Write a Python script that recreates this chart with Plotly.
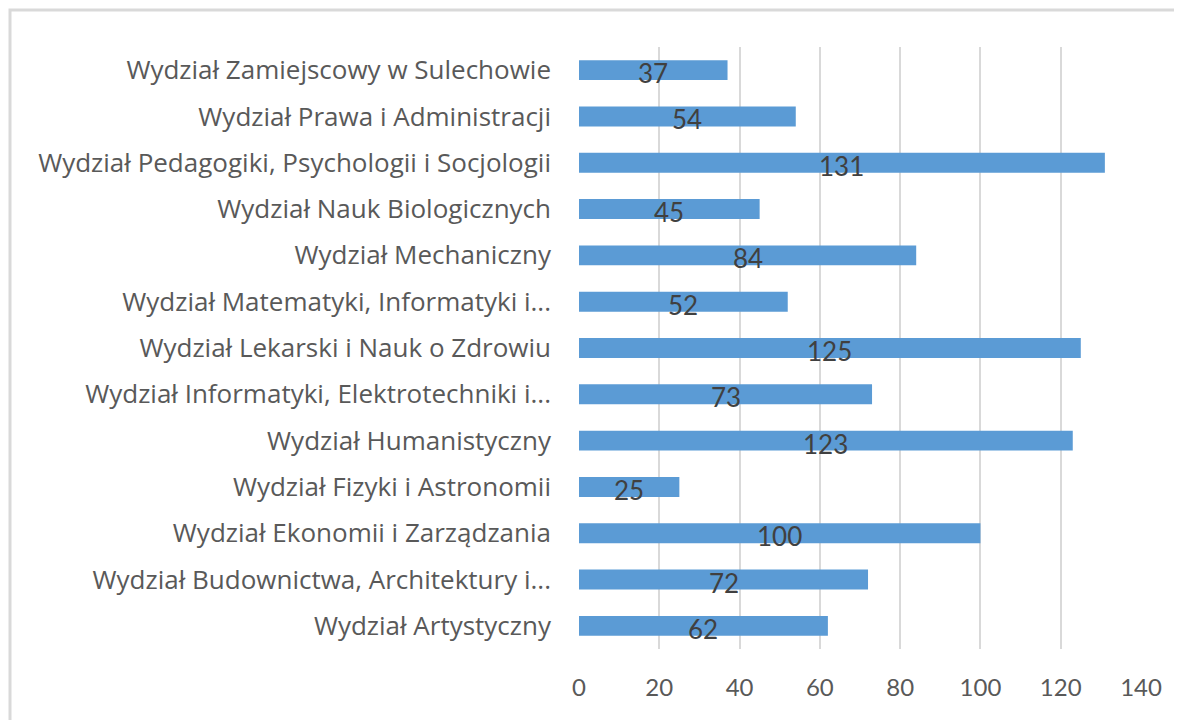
import plotly.graph_objects as go

categories = [
    "Wydział Artystyczny",
    "Wydział Budownictwa, Architektury i...",
    "Wydział Ekonomii i Zarządzania",
    "Wydział Fizyki i Astronomii",
    "Wydział Humanistyczny",
    "Wydział Informatyki, Elektrotechniki i...",
    "Wydział Lekarski i Nauk o Zdrowiu",
    "Wydział Matematyki, Informatyki i...",
    "Wydział Mechaniczny",
    "Wydział Nauk Biologicznych",
    "Wydział Pedagogiki, Psychologii i Socjologii",
    "Wydział Prawa i Administracji",
    "Wydział Zamiejscowy w Sulechowie",
]
values = [62, 72, 100, 25, 123, 73, 125, 52, 84, 45, 131, 54, 37]
x_ticks = [0, 20, 40, 60, 80, 100, 120, 140]

FONT = "Lato, 'Open Sans', sans-serif"
LABEL_FONT = "'Open Sans', Lato, sans-serif"

fig = go.Figure()
fig.add_trace(go.Bar(
    x=values, y=categories, orientation="h",
    marker=dict(color="#5B9BD5", line=dict(width=0)),
    width=0.43, hoverinfo="x+y",
))

for c, v in zip(categories, values):
    fig.add_annotation(x=v / 2, y=c, text=str(v), showarrow=False,
                       xref="x", yref="y", yshift=-3,
                       font=dict(family=FONT, size=26, color="#404040"))

fig.update_layout(
    width=1174, height=712,
    margin=dict(l=571, r=41, t=39, b=71),
    paper_bgcolor="white", plot_bgcolor="white",
    showlegend=False,
    xaxis=dict(range=[0, 140], tickvals=x_ticks, ticktext=[str(t) for t in x_ticks],
               showgrid=True, gridcolor="#d9d9d9", gridwidth=2,
               zeroline=False, showline=False, ticks="",
               ticklabelstandoff=22,
               tickfont=dict(family=FONT, size=24, color="#595959")),
    yaxis=dict(categoryorder="array", categoryarray=categories,
               range=[-0.5, 12.5], showgrid=False, zeroline=False,
               showline=False, ticks="", ticklabelstandoff=27,
               tickfont=dict(family=LABEL_FONT, size=26, color="#595959")),
    shapes=[dict(type="rect", xref="paper", yref="paper",
                 x0=-569 / 562, x1=1.2, y0=-0.5, y1=1 + 37 / 602,
                 line=dict(color="#d9d9d9", width=3), layer="below")],
)

fig.write_html("out.html")
